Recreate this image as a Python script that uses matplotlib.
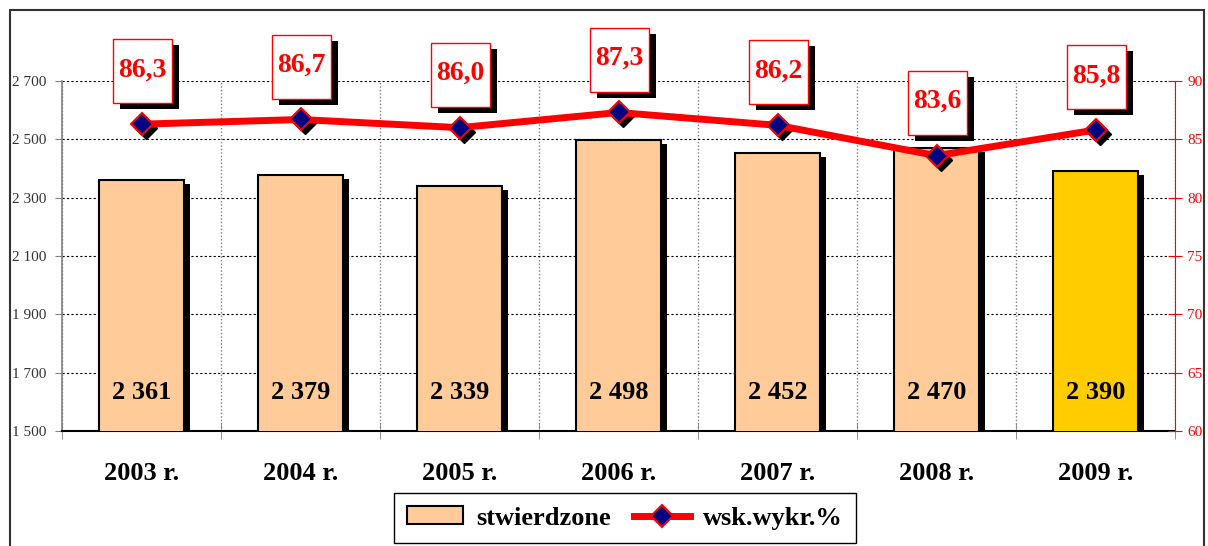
import numpy as np
import matplotlib
matplotlib.use('Agg')
import matplotlib.pyplot as plt
import matplotlib.transforms as mtransforms
from matplotlib.patches import Rectangle
from matplotlib.lines import Line2D
from matplotlib.ticker import FuncFormatter

years = ['2003 r.', '2004 r.', '2005 r.', '2006 r.', '2007 r.', '2008 r.', '2009 r.']
stwierdzone = [2361, 2379, 2339, 2498, 2452, 2470, 2390]
wsk_wykr = [86.3, 86.7, 86.0, 87.3, 86.2, 83.6, 85.8]
bar_colors = ['#FFCC99'] * 6 + ['#FFCC00']
left_ticks = [1500, 1700, 1900, 2100, 2300, 2500, 2700]
right_ticks = [60, 65, 70, 75, 80, 85, 90]


def fmt_thousands(v):
    return f'{v:,.0f}'.replace(',', ' ')


def fmt_pct(v):
    return f'{v:.1f}'.replace('.', ',')


plt.rcParams['font.family'] = ['Liberation Serif', 'DejaVu Serif']

W, H = 1208, 546
fig = plt.figure(figsize=(W / 100, H / 100), dpi=100)
ax = fig.add_axes([62 / W, 1 - 431 / H, (1175 - 62) / W, 350 / H])
x = np.arange(len(years))

# bar shadows, then bars
ax.bar(x + 0.042, [v - 14 for v in stwierdzone], width=0.53, color='black', zorder=2)
ax.bar(x, stwierdzone, width=0.53, color=bar_colors, edgecolor='black', linewidth=1.5, zorder=3)
for i, v in enumerate(stwierdzone):
    ax.text(x[i], 1632, fmt_thousands(v), ha='center', va='center',
            fontsize=19, fontweight='bold', zorder=4)

ax.set_xlim(-0.5, len(years) - 0.5)
ax.set_ylim(1500, 2700)
ax.set_yticks(left_ticks)
ax.yaxis.set_major_formatter(FuncFormatter(lambda v, p: fmt_thousands(v)))
ax.yaxis.grid(True, color='black', linestyle=(0, (2, 2)), linewidth=0.8)
ax.set_xticks(x, years, fontsize=19, fontweight='bold')
ax.set_xticks(np.arange(-0.5, len(years), 1), minor=True)
ax.xaxis.grid(True, which='minor', color='gray', linestyle=(0, (1, 1.5)), linewidth=1)
ax.set_axisbelow(True)
ax.tick_params(axis='x', which='major', length=0, pad=22)
ax.tick_params(axis='x', which='minor', direction='inout', length=12, color='gray')
ax.tick_params(axis='y', direction='out', length=5, color='gray', labelsize=11,
               labelcolor='#333333', pad=6)
for s in ['top', 'right']:
    ax.spines[s].set_visible(False)
ax.spines['left'].set_color('gray')
ax.spines['left'].set_linewidth(1.2)
ax.spines['bottom'].set_linewidth(1.5)

# right axis with the percentage line
ax2 = ax.twinx()
ax2.set_ylim(60, 90)
ax2.set_yticks(right_ticks)
ax2.tick_params(axis='y', direction='inout', length=10, color='red', labelcolor='red',
                labelsize=11, pad=4)
for s in ['top', 'left', 'bottom']:
    ax2.spines[s].set_visible(False)
ax2.spines['right'].set_color('red')

shadow = ax2.transData + mtransforms.ScaledTranslation(0.04, -0.04, fig.dpi_scale_trans)
ax2.plot(x, wsk_wykr, linestyle='none', marker='D', ms=11, color='black', transform=shadow)
ax2.plot(x, wsk_wykr, color='red', lw=5, marker='D', ms=11, mfc='#000080', mec='red', mew=1.5)

for i, v in enumerate(wsk_wykr):
    tr = fig.dpi_scale_trans + mtransforms.ScaledTranslation(x[i], v, ax2.transData)
    ax2.add_patch(Rectangle((-0.22, 0.15), 0.59, 0.64, transform=tr, facecolor='black',
                            edgecolor='none', clip_on=False, zorder=5))
    ax2.add_patch(Rectangle((-0.29, 0.21), 0.59, 0.64, transform=tr, facecolor='white',
                            edgecolor='red', linewidth=1, clip_on=False, zorder=6))
    ax2.text(0.005, 0.54, fmt_pct(v), transform=tr, ha='center', va='center', color='red',
             fontsize=20, fontweight='bold', clip_on=False, zorder=7)

handles = [Rectangle((0, 0), 1, 1, facecolor='#FFCC99', edgecolor='black', linewidth=1.5),
           Line2D([], [], color='red', lw=5, marker='D', ms=11, mfc='#000080', mec='red', mew=1.5)]
fig.legend(handles, ['stwierdzone', 'wsk.wykr.%'], loc='center',
           bbox_to_anchor=(625 / W, 1 - 518 / H), ncol=2, fancybox=False,
           edgecolor='black', framealpha=1, prop=dict(weight='bold', size=19),
           handlelength=2.1, handleheight=0.65, columnspacing=0.9, borderpad=0.5,
           handletextpad=0.5)

fig.add_artist(Rectangle((10 / W, -0.01), (1204 - 10) / W, 1 - 10 / H + 0.01,
                         transform=fig.transFigure, fill=False, edgecolor='#333333', linewidth=1.5))

fig.savefig('out.png', dpi=100)
